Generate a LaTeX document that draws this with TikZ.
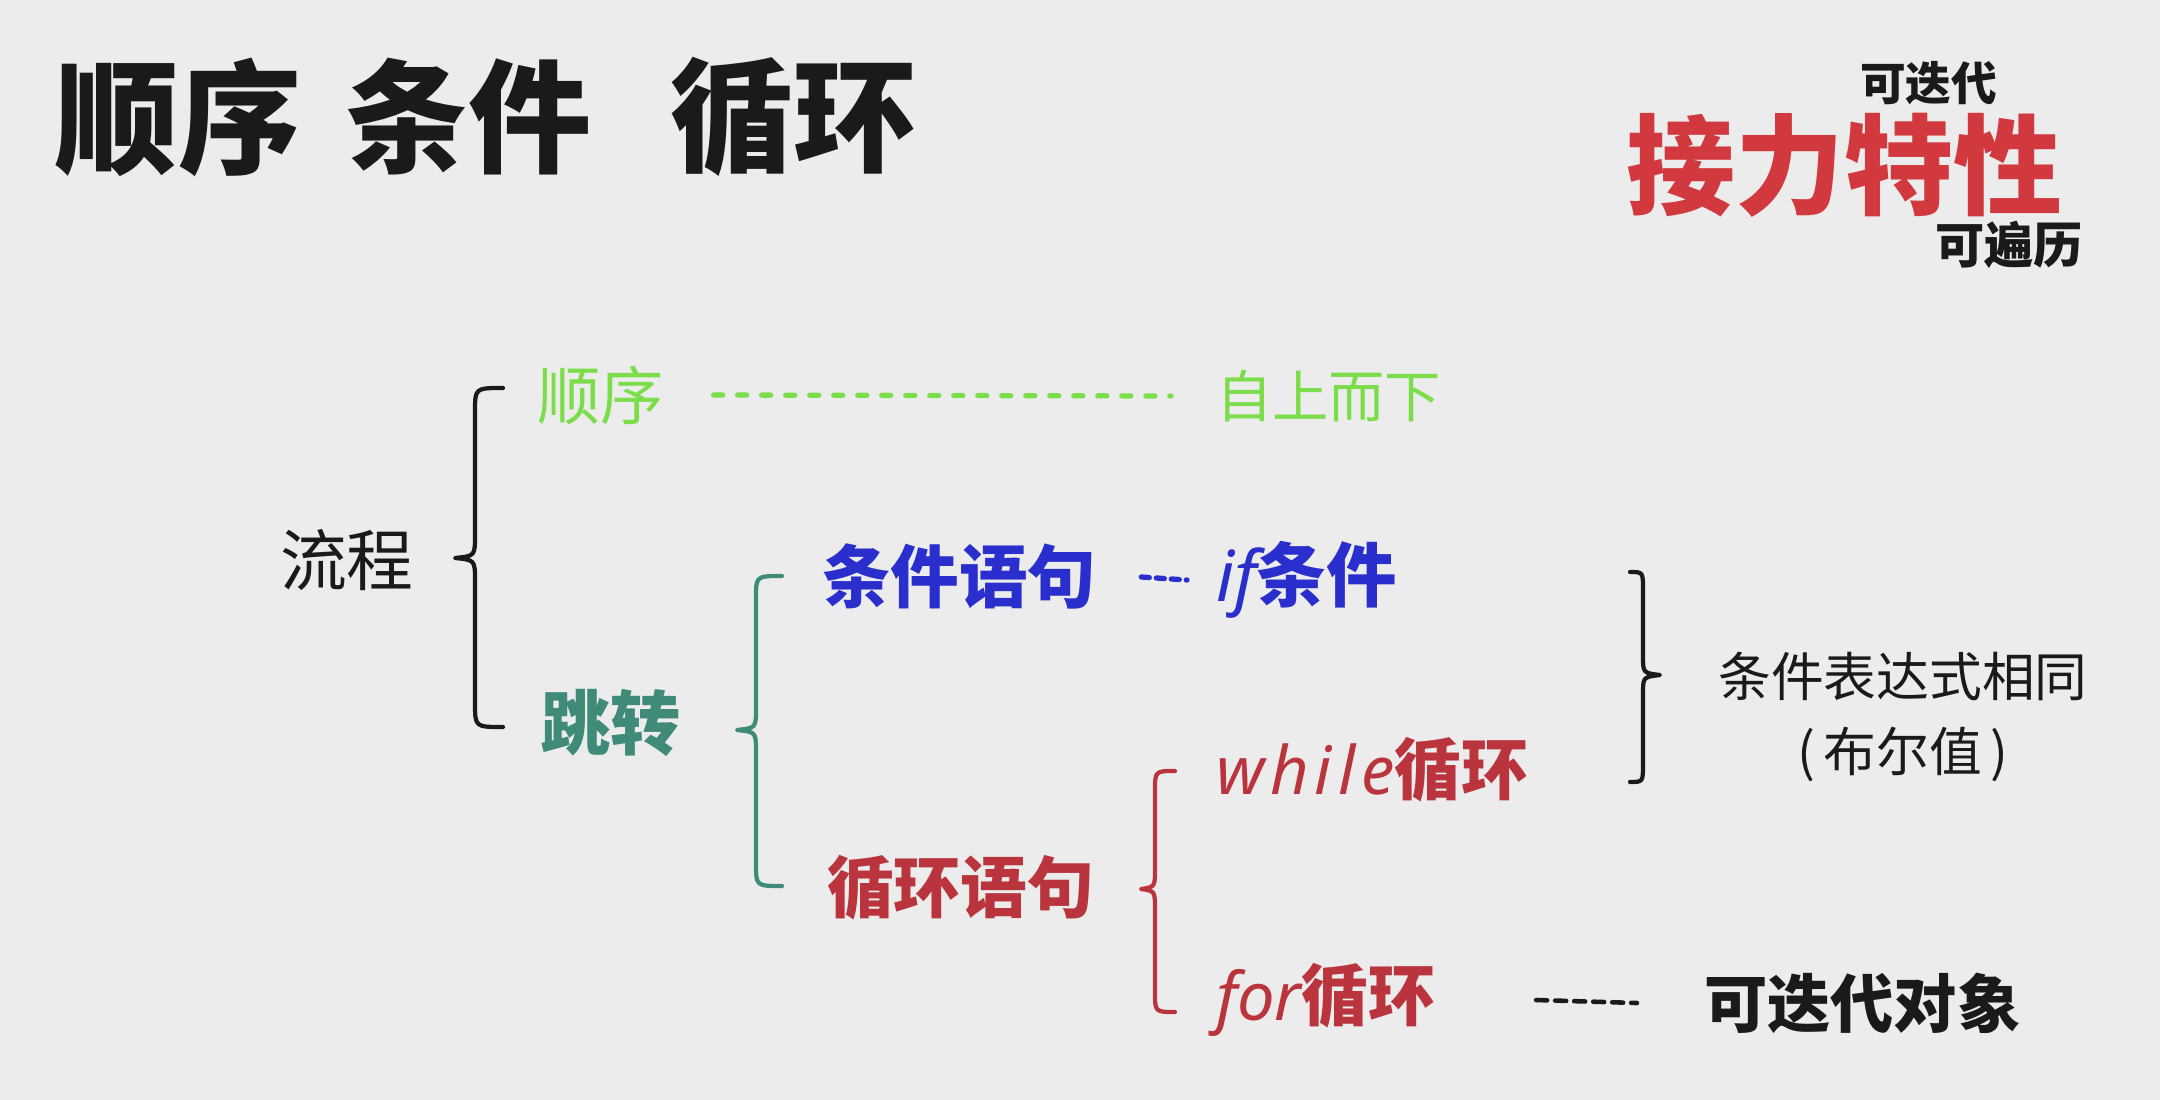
\documentclass[tikz,border=0pt]{standalone}
\usepackage{fontspec}
\setmainfont{Noto Sans CJK SC}
\newfontfamily\lat{Noto Sans}
\definecolor{bg}{HTML}{ECECEC}
\definecolor{ink}{HTML}{1A1A1A}
\definecolor{cgreen}{HTML}{7CDD4A}
\definecolor{cteal}{HTML}{3F8A78}
\definecolor{cblue}{HTML}{2A2ECC}
\definecolor{cred}{HTML}{B9343C}
\definecolor{tred}{HTML}{D2393F}
\begin{document}
\begin{tikzpicture}[x=0.01cm,y=-0.01cm,
  txt/.style={anchor=west,inner sep=0pt,outer sep=0pt},
  bracepath/.style={line width=1.2pt,line cap=round,line join=round},
  dots/.style={line width=1.5pt,line cap=round,dash pattern=on 0.09cm off 0.15cm}]
\fill[bg] (0,0) rectangle (2160,1100);
\useasboundingbox (0,0) rectangle (2160,1100);
% title
\node[txt,text=ink,font=\bfseries\fontsize{35}{35}\selectfont] (t1) at (55,117) {顺序};
\node[txt,text=ink,font=\bfseries\fontsize{35}{35}\selectfont] (t2) at (345,117) {条件};
\node[txt,text=ink,font=\bfseries\fontsize{35}{35}\selectfont] (t3) at (670,117) {循环};
% relay
\node[txt,text=ink,font=\bfseries\fontsize{13}{13}\selectfont] (kdd) at (1860,83) {可迭代};
\node[txt,text=tred,font=\bfseries\fontsize{31}{31}\selectfont] (jieli) at (1626,165) {接力特性};
\node[txt,text=ink,font=\bfseries\fontsize{14}{14}\selectfont] (kbl) at (1935,245) {可遍历};
% tree
\node[txt,text=ink,font=\fontsize{19}{19}\selectfont] (liucheng) at (280,560) {流程};
\node[txt,text=cgreen,font=\fontsize{18}{18}\selectfont] (shunxu) at (537,395) {顺序};
\node[txt,text=cgreen,font=\fontsize{16}{16}\selectfont] (zishang) at (1216,396) {自上而下};
\node[txt,text=cteal,font=\bfseries\fontsize{20}{20}\selectfont] (tiaozhuan) at (540,723) {跳转};
\node[txt,text=cblue,font=\bfseries\fontsize{19.5}{19.5}\selectfont] (tjyj) at (822,577) {条件语句};
\node[txt,text=cblue,font=\bfseries\fontsize{20}{20}\selectfont] (ifn) at (1216,580) {{\lat\itshape if}条件};
\node[anchor=center,inner sep=0pt,text=ink,font=\fontsize{15}{15}\selectfont] (expr) at (1903,676) {条件表达式相同};
\node[anchor=center,inner sep=0pt,text=ink,font=\fontsize{15}{15}\selectfont] (bool) at (1903,754) {(\,布尔值\,)};
\node[txt,text=cred,font=\bfseries\fontsize{19}{19}\selectfont] (xhyj) at (827,888) {循环语句};
\node[txt,text=cred,font=\bfseries\fontsize{19}{19}\selectfont] (whilen) at (1216,770) {{\lat\itshape w\kern0.09em h\kern0.09em i\kern0.09em l\kern0.09em e}循环};
\node[txt,text=cred,font=\bfseries\fontsize{19}{19}\selectfont] (forn) at (1216,1000) {{\lat\itshape for}循环};
\node[txt,text=ink,font=\bfseries\fontsize{18}{18}\selectfont] (kddx) at (1704,1003) {可迭代对象};
% dotted connectors
\draw[dots,cgreen] ([xshift=0.5cm]shunxu.east) -- ([xshift=-0.45cm]zishang.west);
\draw[dots,cblue,dash pattern=on 0.08cm off 0.07cm] ([xshift=0.45cm]tjyj.east) -- ([xshift=-0.29cm]ifn.west);
\draw[dots,ink,line width=1.3pt,dash pattern=on 0.11cm off 0.08cm] ([xshift=1.01cm]forn.east) -- ([xshift=-0.67cm]kddx.west);
% braces
\draw[bracepath,ink] (503,388) .. controls (475,388) .. (475,412) -- (475,535) .. controls (475,556) .. (455,558) .. controls (475,560) .. (475,581) -- (475,703) .. controls (475,727) .. (503,727);
\draw[bracepath,cteal] (782,576) .. controls (756,576) .. (756,598) -- (756,708) .. controls (756,728) .. (737,730) .. controls (756,732) .. (756,752) -- (756,864) .. controls (756,886) .. (782,886);
\draw[bracepath,cred] (1175,771) .. controls (1155,771) .. (1155,791) -- (1155,868) .. controls (1155,887) .. (1141,889) .. controls (1155,891) .. (1155,910) -- (1155,992) .. controls (1155,1012) .. (1175,1012);
\draw[bracepath,ink] (1630,572) .. controls (1643,572) .. (1643,590) -- (1643,656) .. controls (1643,673) .. (1660,675) .. controls (1643,677) .. (1643,694) -- (1643,764) .. controls (1643,782) .. (1630,782);
\end{tikzpicture}
\end{document}
